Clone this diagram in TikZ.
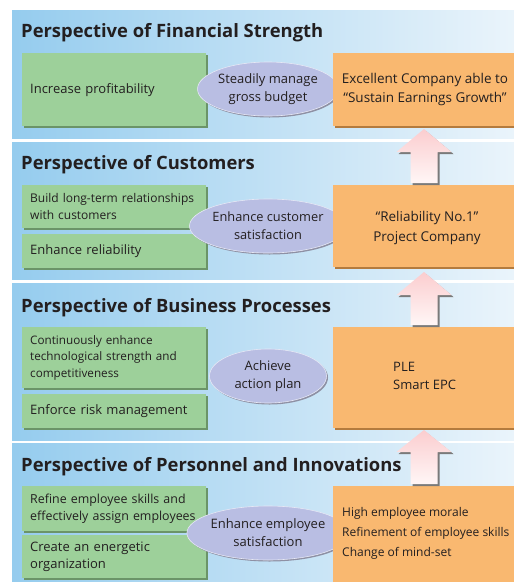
\documentclass[tikz,border=0pt]{standalone}
\usepackage{fontspec}
\setmainfont{Open Sans}
\usetikzlibrary{shapes.geometric,shadows,calc}
\definecolor{bandL}{HTML}{95CCEE}
\definecolor{bandR}{HTML}{EAF4FB}
\definecolor{boxgreen}{HTML}{9DD09A}
\definecolor{greenshadow}{HTML}{6B9468}
\definecolor{boxorange}{HTML}{F9B870}
\definecolor{orangeshadow}{HTML}{B47B3E}
\definecolor{ellfill}{HTML}{B9BEE3}
\definecolor{ellshadow}{HTML}{8E90A4}
\definecolor{txt}{HTML}{231F20}
\definecolor{arrtop}{HTML}{FBCDCF}
\definecolor{arrbot}{HTML}{FFF6F6}
\definecolor{arrshadow}{HTML}{7A7A7A}
\newcommand\myuparrow[3]{%
  \fill[arrshadow] ($(424,#1)+(2,2)$) -- ($(451.5,#2)+(2,2)$) -- ($(437.5,#2)+(2,2)$) -- ($(437.5,#3)+(2,2)$) -- ($(410.5,#3)+(2,2)$) -- ($(410.5,#2)+(2,2)$) -- ($(396.5,#2)+(2,2)$) -- cycle;
  \shade[top color=arrtop, bottom color=arrbot] (424,#1) -- (451.5,#2) -- (437.5,#2) -- (437.5,#3) -- (410.5,#3) -- (410.5,#2) -- (396.5,#2) -- cycle;}
\newcommand\fs[2]{\fontsize{#1}{#2}\selectfont}
\begin{document}
\begin{tikzpicture}[x=1pt,y=-1pt,
  band/.style={left color=bandL, right color=bandR},
  title/.style={anchor=west, inner sep=0pt, text=txt, font=\fs{18.4}{21}\bfseries},
  greenbox/.style={anchor=north west, fill=boxgreen, minimum width=180pt, text width=168pt, inner xsep=8pt, inner ysep=0pt, align=left, text=txt, font=\fs{13}{17},
    general shadow={shadow xshift=1.5pt, shadow yshift=-1.5pt, fill=greenshadow}},
  orangebox/.style={anchor=north west, fill=boxorange, minimum width=190pt, inner sep=0pt,
    general shadow={shadow xshift=1.5pt, shadow yshift=-1.5pt, fill=orangeshadow}},
  orangetext/.style={inner sep=0pt, text=txt, font=\fs{13}{20}},
  ell/.style={ellipse, fill=ellfill, draw=ellfill!35!white, line width=0.6pt, minimum width=117pt, minimum height=54pt, inner sep=0pt, align=center, text=txt, font=\fs{13}{18},
    general shadow={shadow xshift=1.5pt, shadow yshift=-1.5pt, fill=ellshadow, draw=none}}
]
\useasboundingbox (0,0) rectangle (514,582);
\fill[white] (0,0) rectangle (514,582);
% bands
\shade[band] (12,10) rectangle (514,138);
\shade[band] (12,142) rectangle (514,279);
\shade[band] (12,283) rectangle (514,440);
\shade[band] (12,443) rectangle (514,582);
% titles
\node[title] (t1) at (21,33) {Perspective of Financial Strength};
\node[title] (t2) at (21,165) {Perspective of Customers};
\node[title] (t3) at (21,308) {Perspective of Business Processes};
\node[title] (t4) at (21,467) {Perspective of Personnel and Innovations};
% band 1
\node[greenbox, minimum height=73pt] (g1) at (22,53) {Increase profitability};
\node[ell] (e1) at (268,89) {Steadily manage\\gross budget};
\node[orangebox, minimum height=73pt] (o1) at (333,53) {};
\node[orangetext, align=center, font=\fs{13.5}{19}] (o1t) at (425,89) {Excellent Company able to\\“Sustain Earnings Growth”};
% band 2
\node[greenbox, minimum height=43pt, font=\fs{12}{17}] (g2a) at (22,185) {Build long-term relationships\\with customers};
\node[greenbox, minimum height=34pt] (g2b) at (22,234) {Enhance reliability};
\node[ell, font=\fs{12.8}{18}] (e2) at (268,226) {Enhance customer\\satisfaction};
\node[orangebox, minimum height=82pt] (o2) at (333,185) {};
\node[orangetext, align=center, font=\fs{13.5}{20}] (o2t) at (427,228) {“Reliability No.1”\\Project Company};
% band 3
\node[greenbox, minimum height=61pt, font=\fs{11.7}{16.5}] (g3a) at (22,327) {Continuously enhance\\technological strength and\\competitiveness};
\node[greenbox, minimum height=34pt] (g3b) at (22,394) {Enforce risk management};
\node[ell] (e3) at (268,376) {Achieve\\action plan};
\node[orangebox, minimum height=101pt] (o3) at (333,327) {};
\node[orangetext, align=left, anchor=west, font=\fs{13}{18}] (o3t) at (393,376) {PLE\\Smart EPC};
% band 4
\node[greenbox, minimum height=45pt, font=\fs{12.4}{17}] (g4a) at (22,486) {Refine employee skills and\\effectively assign employees};
\node[greenbox, minimum height=43pt] (g4b) at (22,535) {Create an energetic\\organization};
\node[ell] (e4) at (268,533) {Enhance employee\\satisfaction};
\node[orangebox, minimum height=104pt] (o4) at (333,486) {};
\node[orangetext, align=left, anchor=west, font=\fs{12}{20}] (o4t) at (342,533) {High employee morale\\Refinement of employee skills\\Change of mind-set};
% arrows
\myuparrow{129}{152}{183}
\myuparrow{272}{295}{325}
\myuparrow{430}{452}{484}
\end{tikzpicture}
\end{document}
